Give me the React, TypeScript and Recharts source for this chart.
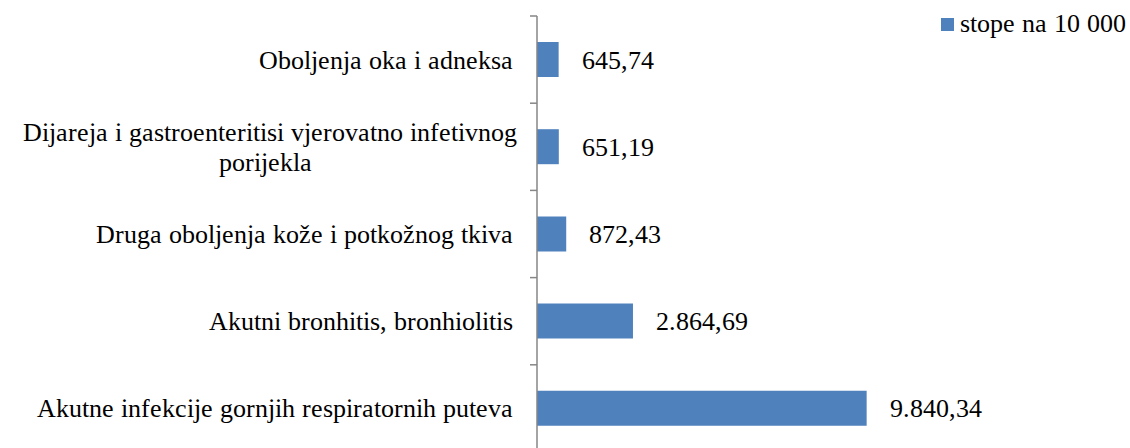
import React from 'react';
import { BarChart, Bar, XAxis, YAxis, LabelList } from 'recharts';

// categories listed top to bottom as they appear in the chart
const categories = [
  'Oboljenja oka i adneksa',
  'Dijareja i gastroenteritisi vjerovatno infetivnog\nporijekla',
  'Druga oboljenja kože i potkožnog tkiva',
  'Akutni bronhitis, bronhiolitis',
  'Akutne infekcije gornjih respiratornih puteva',
];
const rates = [645.74, 651.19, 872.43, 2864.69, 9840.34];
const seriesName = 'stope na 10 000';
const xDomain = [0, 12000];

const data = categories.map((name, i) => ({ name, value: rates[i] }));

const FONT = '"ChartSerif", "Liberation Serif", Tinos, "Times New Roman", serif';
const FONT_SIZE = 26;
const BAR_COLOR = '#4F81BD';
const AXIS_COLOR = '#868686';

// local Times-like face declared as a font-face so the page waits for it
const fontCss = `
@font-face {
  font-family: "ChartSerif";
  src: local("Liberation Serif"), local("LiberationSerif"), local("LiberationSerif-Regular"), local("Tinos"), local("Times New Roman");
  font-weight: 400;
  font-style: normal;
}
body { margin: 0; }
`;

const textStyle = { fontFamily: FONT, fontSize: FONT_SIZE, fill: '#000' };

// 9840.34 -> "9.840,34"
const formatValue = (v: number) => {
  const [int, dec] = v.toFixed(2).split('.');
  return int.replace(/\B(?=(\d{3})+(?!\d))/g, '.') + ',' + dec;
};

// category tick: text right aligned, plus a tick mark at the band's top edge
const CategoryTick = (props: any) => {
  const { x, y, payload } = props;
  const half = payload && payload.offset ? payload.offset : 43.6;
  const lines = String(payload.value).split('\n');
  const textX = x - 24;
  return (
    <g>
      <line x1={x - 7} x2={x} y1={y - half} y2={y - half} stroke={AXIS_COLOR} strokeWidth={1.5} />
      {lines.length === 1 ? (
        <text x={textX} y={y} dy={9} textAnchor="end" style={textStyle}>
          {lines[0]}
        </text>
      ) : (
        <text style={textStyle}>
          <tspan x={textX + 4} y={y - 15} dy={9} textAnchor="end">{lines[0]}</tspan>
          <tspan x={265} y={y + 15} dy={9} textAnchor="middle">{lines[1]}</tspan>
        </text>
      )}
    </g>
  );
};

// value label to the right of each bar
const ValueLabel = (props: any) => {
  const { x, y, width, height, value } = props;
  return (
    <text
      x={Number(x) + Number(width) + 23}
      y={Number(y) + Number(height) / 2}
      dy={9}
      textAnchor="start"
      style={textStyle}
    >
      {formatValue(Number(value))}
    </text>
  );
};

const App = () => {
  return (
    <div
      style={{
        position: 'absolute', left: 0, top: 0, width: 1130, height: 448,
        overflow: 'hidden', background: '#fff', fontFamily: FONT,
      }}
    >
      <style>{fontCss}</style>
      <BarChart
        width={1130}
        height={452}
        data={data}
        layout="vertical"
        margin={{ top: 16, right: 191, bottom: 0, left: 0 }}
        barCategoryGap={0}
      >
        <XAxis type="number" domain={xDomain} hide />
        <YAxis
          type="category"
          dataKey="name"
          width={537}
          axisLine={{ stroke: AXIS_COLOR, strokeWidth: 1.5 }}
          tickLine={false}
          tickSize={0}
          tickMargin={0}
          tick={<CategoryTick />}
          interval={0}
        />
        <Bar dataKey="value" name={seriesName} fill={BAR_COLOR} barSize={35} isAnimationActive={false}>
          <LabelList dataKey="value" content={<ValueLabel />} />
        </Bar>
      </BarChart>
      <div
        style={{
          position: 'absolute', left: 941, top: 9, display: 'flex', alignItems: 'center',
          fontFamily: FONT, fontSize: FONT_SIZE, color: '#000', whiteSpace: 'nowrap',
        }}
      >
        <span style={{ display: 'inline-block', width: 13, height: 13, background: BAR_COLOR, marginRight: 6 }} />
        <span>{seriesName}</span>
      </div>
    </div>
  );
};

export default App;
